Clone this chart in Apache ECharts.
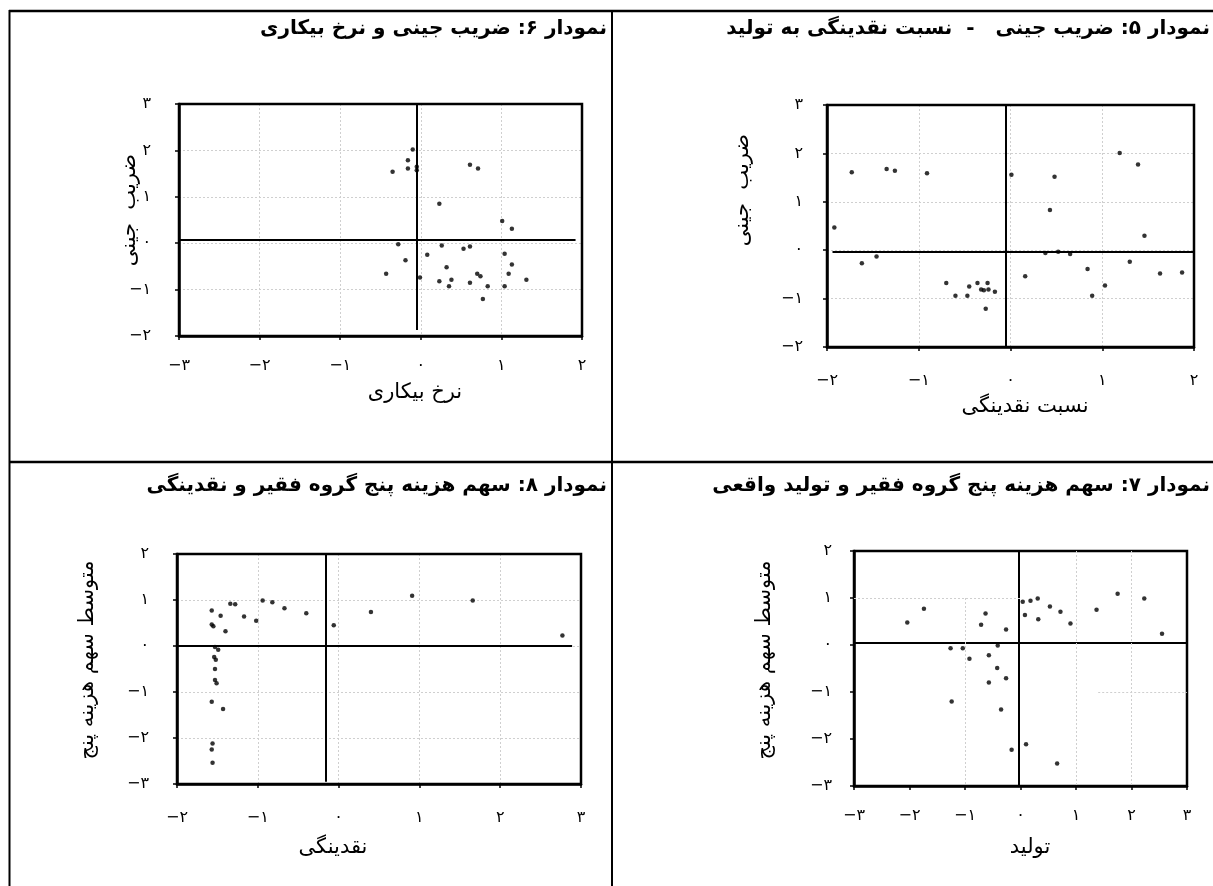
<!DOCTYPE html>
<html>
<head>
<meta charset="utf-8">
<script src="https://cdn.jsdelivr.net/npm/echarts@6/dist/echarts.min.js"></script>
<style>
html,body{margin:0;padding:0;background:#fff;}
#chart{width:1213px;height:886px;}
</style>
</head>
<body>
<div id="chart"></div>
<script>
// ---------- DATA ----------
// Chart 6: Gini coefficient vs unemployment rate
var chart6X = [-0.10,-0.16,-0.16,-0.35,-0.05,-0.05,0.61,0.71,0.23,1.01,1.13,-0.28,0.26,0.61,0.53,1.04,0.08,-0.19,1.13,0.32,-0.43,0.70,0.74,1.09,-0.01,0.23,0.38,0.61,1.31,0.35,0.83,1.04,0.77];
var chart6Y = [2.02,1.79,1.61,1.54,1.65,1.57,1.69,1.61,0.85,0.48,0.31,-0.02,-0.05,-0.07,-0.12,-0.23,-0.25,-0.37,-0.46,-0.52,-0.66,-0.66,-0.71,-0.66,-0.74,-0.82,-0.79,-0.85,-0.79,-0.93,-0.93,-0.93,-1.20];
// Chart 5: Gini coefficient vs liquidity-to-output ratio
var chart5X = [-1.92,-1.73,-1.62,-1.46,-1.35,-1.26,-0.91,-0.70,-0.60,-0.47,-0.45,-0.36,-0.32,-0.29,-0.25,-0.24,-0.17,-0.27,0.01,0.16,0.38,0.43,0.48,0.52,0.65,0.84,0.89,1.03,1.19,1.30,1.39,1.46,1.63,1.87];
var chart5Y = [0.47,1.61,-0.27,-0.13,1.68,1.64,1.59,-0.68,-0.94,-0.94,-0.75,-0.68,-0.81,-0.83,-0.68,-0.81,-0.86,-1.21,1.56,-0.54,-0.06,0.83,1.52,-0.03,-0.08,-0.39,-0.94,-0.73,2.01,-0.24,1.77,0.30,-0.48,-0.46];
// Chart 8: expenditure share of five poor groups vs liquidity
var chart8X = [-1.57,-1.57,-1.55,-1.46,-1.40,-1.34,-1.28,-1.17,-1.02,-0.94,-0.82,-0.67,-0.40,-0.06,0.40,0.91,1.66,2.77,-1.53,-1.49,-1.54,-1.52,-1.53,-1.53,-1.51,-1.57,-1.43,-1.56,-1.57,-1.56];
var chart8Y = [0.77,0.47,0.43,0.66,0.32,0.92,0.91,0.64,0.55,0.99,0.95,0.82,0.71,0.45,0.74,1.09,0.99,0.23,-0.02,-0.08,-0.24,-0.30,-0.50,-0.74,-0.81,-1.21,-1.37,-2.12,-2.25,-2.54];
// Chart 7: expenditure share of five poor groups vs real output
var chart7X = [-2.04,-1.74,-1.26,-1.04,-0.92,-1.24,-0.71,-0.63,-0.57,-0.57,-0.42,-0.41,-0.26,-0.26,-0.35,-0.16,0.04,0.08,0.18,0.31,0.32,0.53,0.72,0.90,0.10,0.66,1.37,1.75,2.23,2.55];
var chart7Y = [0.48,0.77,-0.07,-0.07,-0.29,-1.20,0.43,0.67,-0.22,-0.80,-0.49,-0.01,0.33,-0.71,-1.37,-2.23,0.92,0.64,0.94,0.99,0.55,0.82,0.71,0.46,-2.11,-2.52,0.75,1.09,0.99,0.24];

// Axis ranges
var range6 = {xMin:-3, xMax:2, yMin:-2, yMax:3};
var range5 = {xMin:-2, xMax:2, yMin:-2, yMax:3};
var range8 = {xMin:-2, xMax:3, yMin:-3, yMax:2};
var range7 = {xMin:-3, xMax:3, yMin:-3, yMax:2};

// Cross (zero) lines as drawn in the source, value coordinates
var cross6 = {vx:-0.05, vy0:3, vy1:-1.87, hy:0.08, hx0:-3, hx1:1.92};
var cross5 = {vx:-0.05, vy0:3, vy1:-2, hy:-0.03, hx0:-1.94, hx1:2};
var cross8 = {vx:-0.16, vy0:2, vy1:-2.95, hy:0.01, hx0:-2, hx1:2.89};
var cross7 = {vx:-0.04, vy0:2, vy1:-3, hy:0.05, hx0:-3, hx1:3};

// Titles and axis names
var titles = [
  'نمودار ۶: ضریب جینی و نرخ بیکاری',
  'نمودار ۵: ضریب جینی   -  نسبت نقدینگی به تولید',
  'نمودار ۸: سهم هزینه پنج گروه فقیر و نقدینگی',
  'نمودار ۷: سهم هزینه پنج گروه فقیر و تولید واقعی'
];
var xNames = ['نرخ بیکاری','نسبت نقدینگی','نقدینگی','تولید'];
var yNames = ['ضریب  جینی','ضریب  جینی','متوسط سهم هزینه پنج','متوسط سهم هزینه پنج'];

// ---------- RENDER ----------
var FONT = '"DejaVu Sans", sans-serif';
var DIG = '۰۱۲۳۴۵۶۷۸۹';
function fa(v){
  var s = String(Math.abs(Math.round(v))).replace(/[0-9]/g, function(c){return DIG[+c];});
  return (v < 0 ? '−' : '') + s;
}
function zip(xs, ys){ return xs.map(function(x,i){return [x, ys[i]];}); }

var grids = [
  {left:179, top:104, width:403, height:232},
  {left:827, top:105, width:367, height:242},
  {left:177, top:554, width:404, height:230},
  {left:854, top:551, width:333, height:235}
];
var ranges = [range6, range5, range8, range7];
var crosses = [cross6, cross5, cross8, cross7];
var datasets = [zip(chart6X,chart6Y), zip(chart5X,chart5Y), zip(chart8X,chart8Y), zip(chart7X,chart7Y)];
var xLabelMargin = [22, 26, 26, 22];
var yLabelMargin = [28, 24, 28, 22];

var option = {
  animation:false,
  backgroundColor:'#fff',
  textStyle:{fontFamily:FONT},
  grid: grids.map(function(g){
    return {left:g.left, top:g.top, width:g.width, height:g.height, show:true, z:5,
            borderColor:'#000', borderWidth:2.5, backgroundColor:'transparent', containLabel:false};
  }),
  xAxis: ranges.map(function(r,i){
    return {type:'value', gridIndex:i, min:r.xMin, max:r.xMax, interval:1,
      axisLine:{show:true, onZero:false, lineStyle:{color:'#000', width:2.5}},
      axisTick:{show:true, length:4, lineStyle:{color:'#000', width:1.5}},
      axisLabel:{formatter:fa, color:'#000', fontSize:16, fontFamily:FONT, margin:xLabelMargin[i]},
      splitLine:{show: i !== 3, showMinLine:false, showMaxLine:false, lineStyle:{color:'#cfcfcf', type:[2,2], width:1}}
    };
  }),
  yAxis: ranges.map(function(r,i){
    return {type:'value', gridIndex:i, min:r.yMin, max:r.yMax, interval:1,
      axisLine:{show:true, onZero:false, lineStyle:{color:'#000', width:2.5}},
      axisTick:{show:true, length:4, lineStyle:{color:'#000', width:1.5}},
      axisLabel:{formatter:fa, color:'#000', fontSize:16, fontFamily:FONT, margin:yLabelMargin[i]},
      splitLine:{show: i !== 3, showMinLine:false, showMaxLine:false, lineStyle:{color:'#cfcfcf', type:[2,2], width:1}}
    };
  }),
  title: [
    {text:titles[0], right:1213-607, top:19},
    {text:titles[1], right:3, top:19},
    {text:titles[2], right:1213-607, top:476},
    {text:titles[3], right:3, top:476}
  ].map(function(t){
    t.padding = 0;
    t.textStyle = {fontFamily:FONT, fontWeight:'bold', fontSize:20, color:'#000'};
    return t;
  }),
  series: datasets.map(function(d,i){
    var c = crosses[i];
    var lines = [
      [{coord:[c.vx, c.vy0]},{coord:[c.vx, c.vy1]}],
      [{coord:[c.hx0, c.hy]},{coord:[c.hx1, c.hy]}]
    ];
    if (i === 3) {
      var gl = {color:'#cfcfcf', type:[2,2], width:1};
      lines.push([{coord:[-3,1],lineStyle:gl},{coord:[0,1]}]);
      lines.push([{coord:[1.4,-1],lineStyle:gl},{coord:[3,-1]}]);
      lines.push([{coord:[-1,1],lineStyle:gl},{coord:[-1,-3]}]);
      lines.push([{coord:[1,2],lineStyle:gl},{coord:[1,-3]}]);
      lines.push([{coord:[2,2],lineStyle:gl},{coord:[2,-3]}]);
    }
    return {
      type:'scatter', xAxisIndex:i, yAxisIndex:i, data:d, symbolSize:4.5,
      clip:false, itemStyle:{color:'#000'},
      markLine:{silent:true, symbol:['none','none'], animation:false,
        label:{show:false}, emphasis:{disabled:true},
        lineStyle:{color:'#000', width:2, type:'solid'}, data:lines}
    };
  }),
  graphic: [
    // table rules
    {type:'line', shape:{x1:9, y1:11, x2:1213, y2:11}, style:{stroke:'#000', lineWidth:2.5}},
    {type:'line', shape:{x1:9.5, y1:10, x2:9.5, y2:886}, style:{stroke:'#000', lineWidth:2}},
    {type:'line', shape:{x1:612, y1:11, x2:612, y2:886}, style:{stroke:'#000', lineWidth:2}},
    {type:'line', shape:{x1:9, y1:462, x2:1213, y2:462}, style:{stroke:'#000', lineWidth:2.5}},
    // x axis names
    {type:'text', x:415, y:393, style:{text:xNames[0], font:'21px '+FONT, align:'center', verticalAlign:'middle', fill:'#000'}},
    {type:'text', x:1025, y:407, style:{text:xNames[1], font:'21px '+FONT, align:'center', verticalAlign:'middle', fill:'#000'}},
    {type:'text', x:333, y:848, style:{text:xNames[2], font:'21px '+FONT, align:'center', verticalAlign:'middle', fill:'#000'}},
    {type:'text', x:1030, y:848, style:{text:xNames[3], font:'21px '+FONT, align:'center', verticalAlign:'middle', fill:'#000'}},
    // y axis names (rotated)
    {type:'text', x:130, y:210, rotation:Math.PI/2, style:{text:yNames[0], font:'21px '+FONT, align:'center', verticalAlign:'middle', fill:'#000'}},
    {type:'text', x:743, y:190, rotation:Math.PI/2, style:{text:yNames[1], font:'21px '+FONT, align:'center', verticalAlign:'middle', fill:'#000'}},
    {type:'text', x:88, y:660, rotation:Math.PI/2, style:{text:yNames[2], font:'21px '+FONT, align:'center', verticalAlign:'middle', fill:'#000'}},
    {type:'text', x:765, y:660, rotation:Math.PI/2, style:{text:yNames[3], font:'21px '+FONT, align:'center', verticalAlign:'middle', fill:'#000'}}
  ]
};

var chart = echarts.init(document.getElementById('chart'), null, {renderer:'canvas'});
chart.setOption(option);
</script>
</body>
</html>
